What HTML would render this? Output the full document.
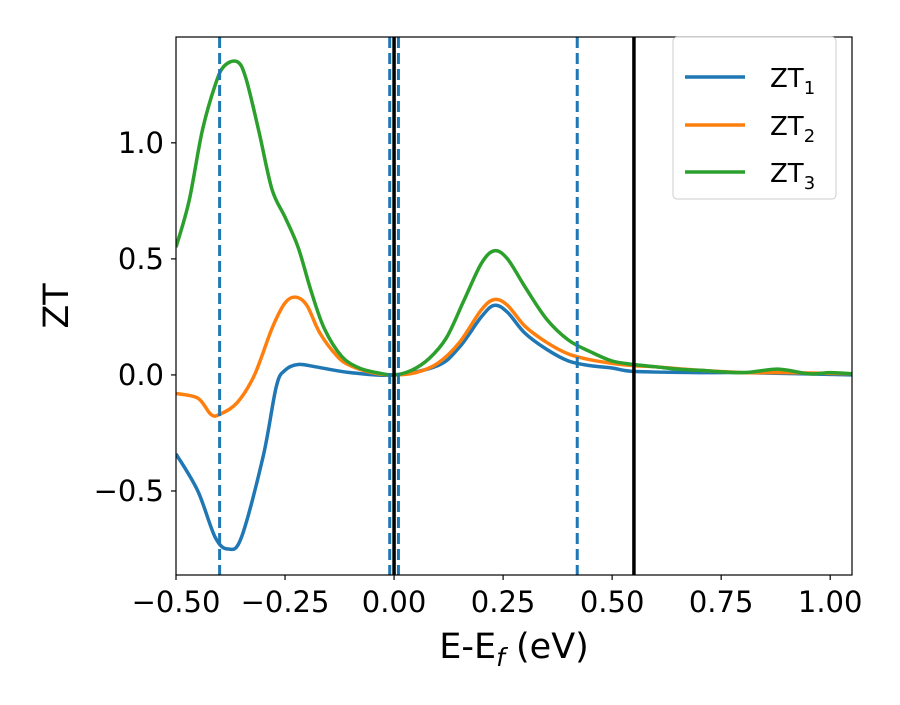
<!DOCTYPE html>
<html><head><meta charset="utf-8"><style>
body{margin:0;background:#fff;font-family:"Liberation Sans","DejaVu Sans",sans-serif}
</style></head><body>
<svg id="c" width="900" height="700" xmlns="http://www.w3.org/2000/svg" font-family="DejaVu Sans, Liberation Sans, sans-serif"></svg>
<script>
const xTicks=[-0.5,-0.25,0,0.25,0.5,0.75,1.0];
const xTickLabels=["\u22120.50","\u22120.25","0.00","0.25","0.50","0.75","1.00"];
const yTicks=[-0.5,0,0.5,1.0];
const yTickLabels=["\u22120.5","0.0","0.5","1.0"];
const seriesNames=["ZT1","ZT2","ZT3"];
const zt1E=[-0.5,-0.45,-0.41,-0.38,-0.35,-0.3,-0.27,-0.25,-0.22,-0.18,-0.1,0,0.1,0.15,0.2,0.23,0.26,0.3,0.35,0.4,0.45,0.5,0.55,0.7,0.8,1.05];
const zt1V=[-0.34,-0.5,-0.7,-0.75,-0.7,-0.35,-0.05,0.02,0.045,0.035,0.01,0,0.04,0.12,0.25,0.3,0.27,0.18,0.11,0.06,0.04,0.03,0.015,0.01,0.01,0];
const zt2E=[-0.5,-0.45,-0.42,-0.4,-0.36,-0.32,-0.28,-0.25,-0.225,-0.2,-0.17,-0.13,-0.1,-0.05,0,0.05,0.1,0.15,0.2,0.23,0.26,0.3,0.35,0.4,0.45,0.5,0.55,0.6,0.7,0.8,0.9,1.05];
const zt2V=[-0.08,-0.1,-0.17,-0.17,-0.12,0,0.2,0.31,0.335,0.3,0.18,0.08,0.04,0.01,0,0.01,0.05,0.14,0.28,0.325,0.3,0.21,0.14,0.09,0.065,0.05,0.04,0.035,0.02,0.01,0.01,0.005];
const zt3E=[-0.5,-0.47,-0.44,-0.41,-0.39,-0.36,-0.34,-0.31,-0.28,-0.25,-0.22,-0.19,-0.16,-0.12,-0.08,-0.04,0,0.04,0.08,0.12,0.16,0.2,0.23,0.26,0.3,0.35,0.4,0.45,0.5,0.55,0.6,0.65,0.7,0.8,0.88,0.95,1.0,1.05];
const zt3V=[0.55,0.75,1.05,1.25,1.33,1.35,1.28,1.05,0.8,0.68,0.55,0.36,0.2,0.08,0.03,0.01,0,0.02,0.07,0.16,0.32,0.48,0.535,0.5,0.38,0.24,0.15,0.1,0.06,0.045,0.035,0.025,0.02,0.01,0.025,0.005,0.01,0.005];
const dashedLines=[-0.4,-0.01,0.01,0.42];
const solidLines=[0,0.55];
const L=176,R=852,T=37,B=575,xmin=-0.5,xmax=1.05,ymin=-0.862,ymax=1.456;
const X=v=>L+(v-xmin)/(xmax-xmin)*(R-L);
const Y=v=>B-(v-ymin)/(ymax-ymin)*(B-T);
const svg=document.getElementById('c');const NS="http://www.w3.org/2000/svg";
function mk(t,a,p){const e=document.createElementNS(NS,t);for(const k in a)e.setAttribute(k,a[k]);(p||svg).appendChild(e);return e;}
const clip=mk('clipPath',{id:'cp'});mk('rect',{x:L,y:T,width:R-L,height:B-T},clip);
function path(E,V){const p=E.map((e,i)=>[X(e),Y(V[i])]);let d=`M${p[0][0]},${p[0][1]}`;
for(let i=0;i<p.length-1;i++){const p0=p[Math.max(0,i-1)],p1=p[i],p2=p[i+1],p3=p[Math.min(p.length-1,i+2)];
d+=` C${p1[0]+(p2[0]-p0[0])/6},${p1[1]+(p2[1]-p0[1])/6} ${p2[0]-(p3[0]-p1[0])/6},${p2[1]-(p3[1]-p1[1])/6} ${p2[0]},${p2[1]}`;}return d;}
const colors=["#1f77b4","#ff7f0e","#2ca02c"];
[[zt1E,zt1V],[zt2E,zt2V],[zt3E,zt3V]].forEach((s,i)=>{const e=mk('path',{d:path(s[0],s[1]),fill:'none',stroke:colors[i],'stroke-width':3.5,'clip-path':'url(#cp)'});

});
dashedLines.forEach(v=>{const e=mk('line',{x1:X(v),x2:X(v),y1:T,y2:B,stroke:'#1f77b4','stroke-width':3,'stroke-dasharray':'11,5'});

});
solidLines.forEach(v=>{const e=mk('line',{x1:X(v),x2:X(v),y1:T,y2:B,stroke:'#000','stroke-width':3.5});

});
const fr=mk('rect',{x:L,y:T,width:R-L,height:B-T,fill:'none',stroke:'#000','stroke-width':1.2});


xTicks.forEach((v,i)=>{mk('line',{x1:X(v),x2:X(v),y1:B,y2:B+5,stroke:'#000','stroke-width':1.2});
const t=mk('text',{x:X(v),y:B+37,'text-anchor':'middle','font-size':29});t.textContent=xTickLabels[i];

});
yTicks.forEach((v,i)=>{mk('line',{x1:L-5,x2:L,y1:Y(v),y2:Y(v),stroke:'#000','stroke-width':1.2});
const t=mk('text',{x:L-12,y:Y(v)+10,'text-anchor':'end','font-size':29});t.textContent=yTickLabels[i];

});
</script>
<svg style="position:absolute;left:0;top:0" width="900" height="700" font-family="DejaVu Sans, Liberation Sans, sans-serif">
<text x="514" y="658" text-anchor="middle" font-size="35">E-E<tspan font-style="italic" font-size="25" dy="8">f</tspan><tspan dy="-8"> (eV)</tspan></text>
<text transform="translate(68,306) rotate(-90)" text-anchor="middle" font-size="35">ZT</text>
<g>
<rect x="673" y="37" width="163" height="162" rx="4" fill="#fff" fill-opacity="0.85" stroke="#ccc"/>
<line x1="685" x2="745" y1="77" y2="77" stroke="#1f77b4" stroke-width="3.5"/>
<text x="770" y="87" font-size="26">ZT<tspan font-size="18" dy="7">1</tspan></text>
<line x1="685" x2="745" y1="125" y2="125" stroke="#ff7f0e" stroke-width="3.5"/>
<text x="770" y="135" font-size="26">ZT<tspan font-size="18" dy="7">2</tspan></text>
<line x1="685" x2="745" y1="172" y2="172" stroke="#2ca02c" stroke-width="3.5"/>
<text x="770" y="182" font-size="26">ZT<tspan font-size="18" dy="7">3</tspan></text>
</g>
</svg>
</body></html>
